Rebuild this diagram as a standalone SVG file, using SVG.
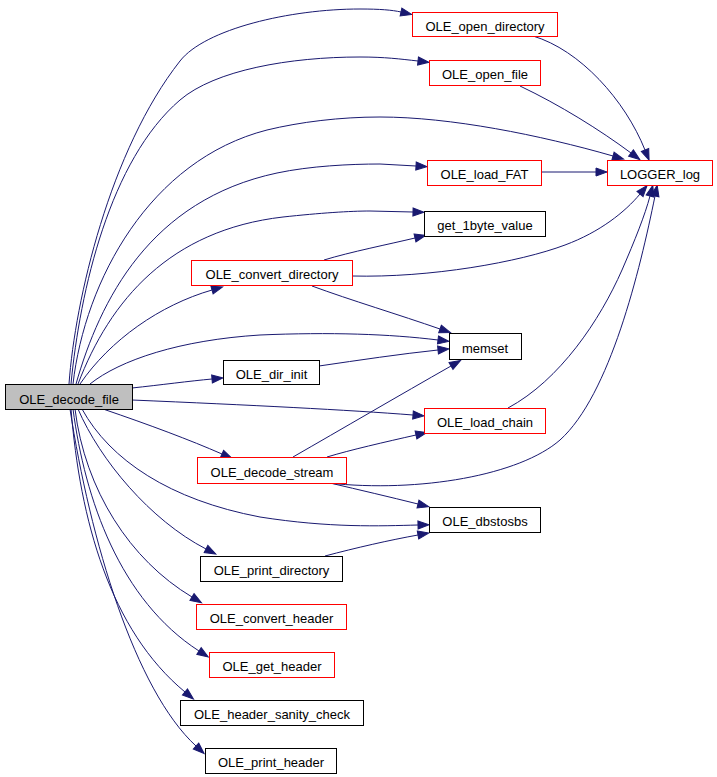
<svg xmlns="http://www.w3.org/2000/svg" width="717" height="777" viewBox="0 0 717 777">
<style>
.n rect{fill:#ffffff;stroke:#000000;stroke-width:1}
.n.r rect{stroke:#ff0000}
.n.g rect{fill:#bfbfbf}
.n text{font-family:"Liberation Sans",Arial,sans-serif;font-size:13px;fill:#000000;text-anchor:middle}
.e path{fill:none;stroke:#191970;stroke-width:1;marker-end:url(#ah)}
</style>
<defs>
<marker id="ah" markerUnits="userSpaceOnUse" markerWidth="11" markerHeight="8" refX="0" refY="4" orient="auto" overflow="visible">
<path d="M0,0 L11,4 L0,8 z" fill="#191970" stroke="#191970" stroke-width="1"/>
</marker>
</defs>
<rect x="0" y="0" width="717" height="777" fill="#ffffff"/>
<g id="edges" class="e">
<path d="M69,384 C75,300 110,150 180,61 C205,29 290,9 360,9 C380,9 392,10 401,12"/>
<path d="M71,384 C80,290 110,160 180,100 C215,70 290,57 360,57 C385,57 400,59 418,61"/>
<path d="M73,384 C85,280 150,160 267,130 C300,122 340,117 380,117 C450,117 540,135 613,156"/>
<path d="M76,384 C100,300 150,200 277,173 C310,166 350,164 380,164 L416,166"/>
<path d="M78,384 C110,300 170,230 283,217 C320,213 350,211 370,211 L413,212"/>
<path d="M80,384 C110,340 160,305 212,290"/>
<path d="M90,384 C120,360 180,340 260,335 C330,332 390,334 438,340"/>
<path d="M132,388 C160,385 190,381 212,379"/>
<path d="M132,400 C250,405 350,410 413,415"/>
<path d="M103,409 C150,425 190,440 222,454"/>
<path d="M82,409 C110,460 170,500 260,517 C330,528 380,526 418,525"/>
<path d="M78,409 C100,460 150,520 206,549"/>
<path d="M75,409 C85,490 130,560 192,597"/>
<path d="M73,409 C85,500 120,600 199,651"/>
<path d="M71,409 C80,520 110,630 185,692"/>
<path d="M70,409 C90,540 135,690 196,746"/>
<path d="M533,36 C580,50 625,100 645,150"/>
<path d="M520,86 C560,105 600,130 631,153"/>
<path d="M541,172 L596,172"/>
<path d="M324,260 C350,252 390,244 415,238"/>
<path d="M352,276 C430,278 520,262 565,245 C600,232 625,212 640,194"/>
<path d="M312,286 C350,300 400,315 440,329"/>
<path d="M319,366 C360,360 400,354 438,350"/>
<path d="M293,457 C340,430 400,395 451,366"/>
<path d="M508,408 C560,380 600,320 622,270 C635,240 645,215 650,196"/>
<path d="M327,457 C350,450 385,442 416,435"/>
<path d="M330,483 C360,490 390,497 418,504"/>
<path d="M328,483 C420,493 520,475 560,440 C610,395 640,270 655,196"/>
<path d="M325,556 C355,548 390,540 418,535"/>
</g>
<g id="OLE_decode_file" class="n g"><rect x="5.5" y="384.5" width="127" height="25"/><text x="69" y="403.5">OLE_decode_file</text></g>
<g id="OLE_open_directory" class="n r"><rect x="412.5" y="12.5" width="145" height="24"/><text x="485" y="30.5">OLE_open_directory</text></g>
<g id="OLE_open_file" class="n r"><rect x="429.5" y="60.5" width="111" height="25"/><text x="485" y="79">OLE_open_file</text></g>
<g id="LOGGER_log" class="n r"><rect x="607.5" y="160.5" width="105" height="25"/><text x="660" y="179">LOGGER_log</text></g>
<g id="OLE_load_FAT" class="n r"><rect x="427.5" y="160.5" width="114" height="25"/><text x="484.5" y="179">OLE_load_FAT</text></g>
<g id="get_1byte_value" class="n"><rect x="424.5" y="211.5" width="121" height="25"/><text x="485" y="230">get_1byte_value</text></g>
<g id="OLE_convert_directory" class="n r"><rect x="191.5" y="260.5" width="161" height="25"/><text x="272" y="279">OLE_convert_directory</text></g>
<g id="memset" class="n"><rect x="449.5" y="333.5" width="72" height="26"/><text x="485" y="352.5">memset</text></g>
<g id="OLE_dir_init" class="n"><rect x="223.5" y="360.5" width="96" height="24"/><text x="271.5" y="378.5">OLE_dir_init</text></g>
<g id="OLE_load_chain" class="n r"><rect x="424.5" y="408.5" width="121" height="25"/><text x="485" y="427">OLE_load_chain</text></g>
<g id="OLE_decode_stream" class="n r"><rect x="197.5" y="457.5" width="149" height="26"/><text x="272" y="476.5">OLE_decode_stream</text></g>
<g id="OLE_dbstosbs" class="n"><rect x="429.5" y="507.5" width="111" height="25"/><text x="485" y="526">OLE_dbstosbs</text></g>
<g id="OLE_print_directory" class="n"><rect x="200.5" y="556.5" width="142" height="25"/><text x="271.5" y="575">OLE_print_directory</text></g>
<g id="OLE_convert_header" class="n r"><rect x="196.5" y="604.5" width="150" height="25"/><text x="271.5" y="623">OLE_convert_header</text></g>
<g id="OLE_get_header" class="n r"><rect x="209.5" y="652.5" width="125" height="25"/><text x="272" y="671">OLE_get_header</text></g>
<g id="OLE_header_sanity_check" class="n"><rect x="180.5" y="700.5" width="183" height="25"/><text x="272" y="719">OLE_header_sanity_check</text></g>
<g id="OLE_print_header" class="n"><rect x="205.5" y="748.5" width="131" height="25"/><text x="271" y="767">OLE_print_header</text></g>
</svg>
